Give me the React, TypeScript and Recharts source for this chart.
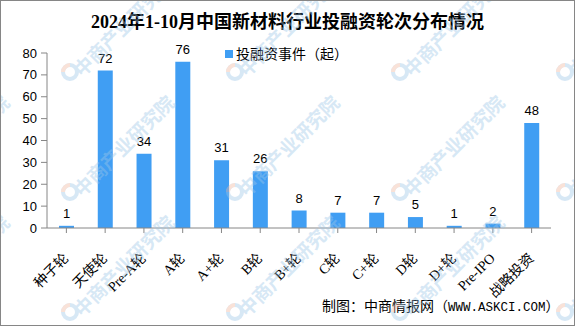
import React from 'react';
import { BarChart, Bar, XAxis, YAxis, LabelList } from 'recharts';

const rounds = ['种子轮', '天使轮', 'Pre-A轮', 'A轮', 'A+轮', 'B轮', 'B+轮', 'C轮', 'C+轮', 'D轮', 'D+轮', 'Pre-IPO', '战略投资'];
const events = [1, 72, 34, 76, 31, 26, 8, 7, 7, 5, 1, 2, 48];
const yTicks = [0, 10, 20, 30, 40, 50, 60, 70, 80];

const seriesName = '投融资事件（起）';
const BAR = '#409ef3';
const AXIS = '#868686';
const SERIF = '"Liberation Serif", "Noto Sans CJK SC", serif';
const SANS = '"Liberation Sans", "Noto Sans CJK SC", sans-serif';

const chartData = rounds.map((name, i) => ({ name, value: events[i] }));

const RoundTick = (props: any) => {
  const { x, y, payload } = props;
  const px = x + 3;
  const py = y + 24;
  return (
    <text
      x={px}
      y={py}
      transform={`rotate(-45, ${px}, ${py})`}
      textAnchor="end"
      fontSize={14}
      fontFamily={SERIF}
      fill="#000"
    >
      {payload.value}
    </text>
  );
};

// faint "中商产业研究院" watermark grid
const wmCols = [-95, 70, 235, 400, 565];
const wmRows = [72, 192, 312];

const Watermark = () => (
  <svg width={575} height={326} style={{ position: 'absolute', left: 0, top: 0, pointerEvents: 'none' }}>
    {wmRows.map((wy) =>
      wmCols.map((wx) => (
        <g key={`${wx}-${wy}`} opacity={0.4}>
          <circle cx={wx} cy={wy} r={7} fill="none" stroke="#9cc6e8" strokeWidth={4} />
          <path d={`M ${wx - 7} ${wy} A 7 7 0 0 1 ${wx} ${wy - 7}`} fill="none" stroke="#f2b79f" strokeWidth={4} />
          <text
            x={wx + 12}
            y={wy + 6}
            transform={`rotate(-45, ${wx + 12}, ${wy + 6})`}
            fontSize={19}
            fontWeight="bold"
            fontFamily='"Noto Sans CJK SC", sans-serif'
            fill="#9cc6e8"
          >
            中商产业研究院
          </text>
        </g>
      ))
    )}
  </svg>
);

export default function App() {
  return (
    <div style={{ position: 'absolute', left: 0, top: 0, width: 575, height: 326, background: '#fff', overflow: 'hidden' }}>
      <div
        style={{
          position: 'absolute',
          left: 0,
          top: 10,
          width: 575,
          textAlign: 'center',
          fontFamily: SERIF,
          fontWeight: 'bold',
          fontSize: 18,
          lineHeight: '24px',
          color: '#000',
        }}
      >
        2024年1-10月中国新材料行业投融资轮次分布情况
      </div>
      <BarChart width={575} height={326} data={chartData} margin={{ top: 53, right: 24, bottom: 0, left: 0 }}>
        <XAxis
          dataKey="name"
          interval={0}
          height={98}
          tick={<RoundTick />}
          tickSize={5}
          axisLine={{ stroke: AXIS }}
          tickLine={{ stroke: AXIS }}
        />
        <YAxis
          width={47}
          domain={[0, 80]}
          ticks={yTicks}
          interval={0}
          tickSize={6}
          tickMargin={4}
          axisLine={{ stroke: AXIS }}
          tickLine={{ stroke: AXIS }}
          tick={{ fontSize: 13, fontFamily: SANS, fill: '#000' }}
        />
        <Bar dataKey="value" name={seriesName} fill={BAR} barSize={15} isAnimationActive={false}>
          <LabelList dataKey="value" position="top" offset={8} fontSize={13} fontFamily={SANS} fill="#000" />
        </Bar>
      </BarChart>
      <div
        style={{
          position: 'absolute',
          left: 225,
          top: 44,
          display: 'flex',
          alignItems: 'center',
          fontFamily: SANS,
          fontSize: 14,
          lineHeight: '20px',
          color: '#000',
        }}
      >
        <span style={{ width: 8, height: 8, background: BAR, display: 'inline-block', marginRight: 3 }} />
        {seriesName}
      </div>
      <div
        style={{
          position: 'absolute',
          left: 322,
          top: 296,
          fontFamily: SANS,
          fontSize: 14,
          lineHeight: '20px',
          color: '#000',
          whiteSpace: 'nowrap',
        }}
      >
        制图：中商情报网（<span style={{ fontFamily: '"Liberation Mono", monospace', fontSize: 12.5 }}>WWW.ASKCI.COM</span>）
      </div>
      <Watermark />
      <div
        style={{
          position: 'absolute',
          left: 0,
          top: 0,
          width: 575,
          height: 326,
          boxSizing: 'border-box',
          border: `1px solid ${AXIS}`,
          pointerEvents: 'none',
        }}
      />
    </div>
  );
}
